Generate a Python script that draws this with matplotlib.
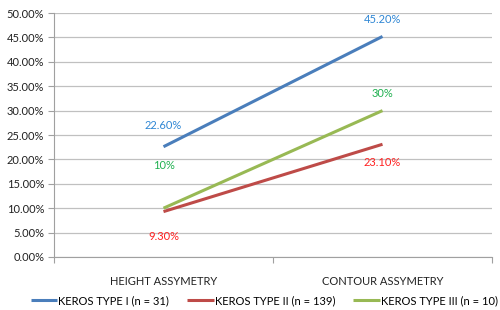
import matplotlib.pyplot as plt
from matplotlib.ticker import PercentFormatter

# data
categories = ['HEIGHT ASSYMETRY', 'CONTOUR ASSYMETRY']
series_names = ['KEROS TYPE I (n = 31)', 'KEROS TYPE II (n = 139)', 'KEROS TYPE III (n = 10)']
type1 = [22.6, 45.2]
type2 = [9.3, 23.1]
type3 = [10, 30]
labels1 = ['22.60%', '45.20%']
labels2 = ['9.30%', '23.10%']
labels3 = ['10%', '30%']

line_colors = ['#4A7EBB', '#BE4B48', '#98B954']
label_colors = ['#2E86D4', '#FF2020', '#20B050']

plt.rcParams['font.family'] = ['Lato', 'DejaVu Sans']

fig = plt.figure(figsize=(5, 3.1), dpi=100)
ax = fig.add_axes([0.108, 0.171, 0.876, 0.787])

x = [0, 1]
ax.plot(x, type1, color=line_colors[0], lw=2.2, label=series_names[0], solid_capstyle='butt')
ax.plot(x, type2, color=line_colors[1], lw=2.2, label=series_names[1], solid_capstyle='butt')
ax.plot(x, type3, color=line_colors[2], lw=2.2, label=series_names[2], solid_capstyle='butt')

fs = 8
# data labels
ax.annotate(labels1[0], (0, type1[0]), xytext=(0, 11), textcoords='offset points', ha='center', va='bottom', color=label_colors[0], fontsize=fs)
ax.annotate(labels1[1], (1, type1[1]), xytext=(0, 8), textcoords='offset points', ha='center', va='bottom', color=label_colors[0], fontsize=fs)
ax.annotate(labels2[0], (0, type2[0]), xytext=(0, -14), textcoords='offset points', ha='center', va='top', color=label_colors[1], fontsize=fs)
ax.annotate(labels2[1], (1, type2[1]), xytext=(0, -9), textcoords='offset points', ha='center', va='top', color=label_colors[1], fontsize=fs)
ax.annotate(labels3[0], (0, type3[0]), xytext=(0, 27), textcoords='offset points', ha='center', va='bottom', color=label_colors[2], fontsize=fs)
ax.annotate(labels3[1], (1, type3[1]), xytext=(0, 8), textcoords='offset points', ha='center', va='bottom', color=label_colors[2], fontsize=fs)

ax.set_xlim(-0.5, 1.5)
ax.set_ylim(0, 50)
ax.set_yticks(range(0, 51, 5))
ax.yaxis.set_major_formatter(PercentFormatter(decimals=2))
ax.set_xticks([-0.5, 0.5, 1.5])
ax.set_xticklabels([])
ax.set_xticks(x, minor=True)
ax.set_xticklabels(categories, minor=True)
ax.tick_params(axis='x', which='minor', length=0, pad=14, labelsize=fs, colors='#222222')
ax.tick_params(axis='x', which='major', length=4, color='#A0A0A0', direction='out')
ax.tick_params(axis='y', length=4, color='#A0A0A0', labelsize=fs, labelcolor='#222222', pad=3)

ax.grid(axis='y', color='#C0C0C0', lw=0.9)
ax.set_axisbelow(True)
for s in ['top', 'right']:
    ax.spines[s].set_visible(False)
ax.spines['left'].set_color('#A0A0A0')
ax.spines['bottom'].set_color('#A0A0A0')

ax.legend(loc='upper center', bbox_to_anchor=(0.48, -0.115), ncol=3, frameon=False,
          fontsize=fs, handlelength=2.4, handletextpad=0.1, columnspacing=1.6)

plt.savefig('out.png', dpi=100)
